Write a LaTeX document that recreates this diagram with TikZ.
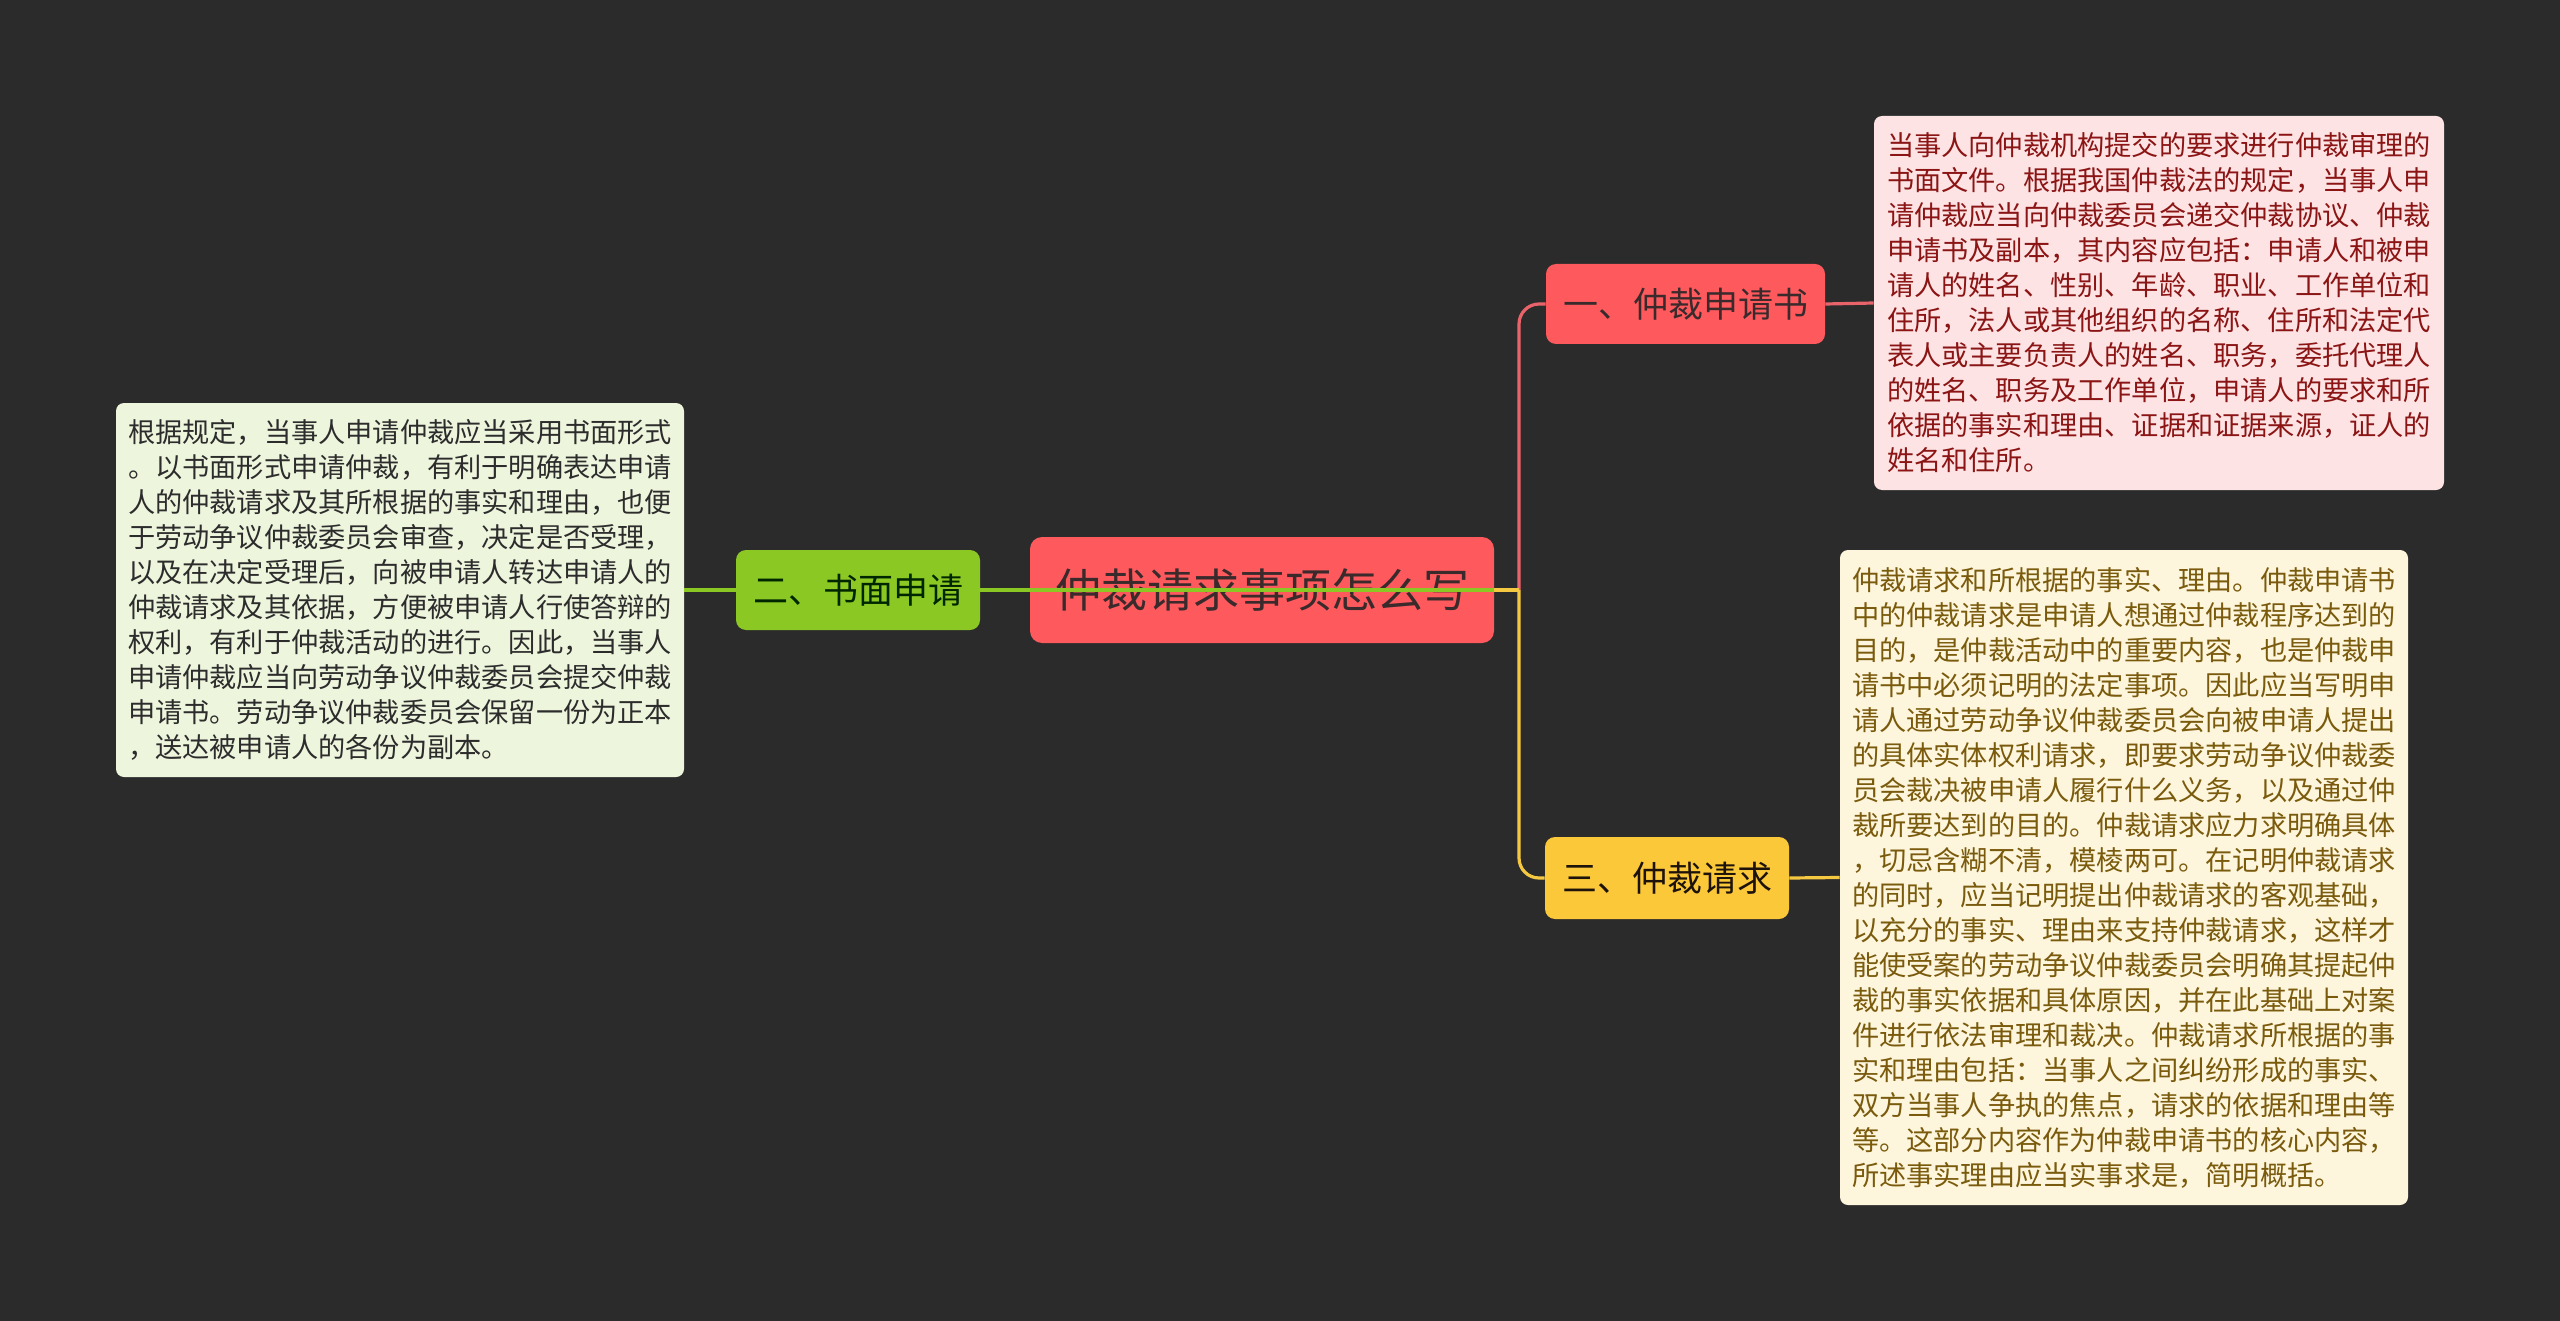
\documentclass[tikz,border=0pt]{standalone}
\usepackage{fontspec}
\newfontfamily\cjkfont{Noto Sans CJK SC}
\definecolor{bgdark}{HTML}{2B2B2B}
\definecolor{coral}{HTML}{FE5A5E}
\definecolor{leaf}{HTML}{8BC824}
\definecolor{amber}{HTML}{FBC83A}
\definecolor{pinkpale}{HTML}{FDE3E4}
\definecolor{creampale}{HTML}{FDF6DC}
\definecolor{leafpale}{HTML}{EDF5DD}
\definecolor{titleink}{HTML}{3A2A2C}
\definecolor{redink}{HTML}{8B1414}
\definecolor{brownink}{HTML}{7A5A0C}
\definecolor{greyink}{HTML}{2C2C2C}
\definecolor{redwire}{HTML}{E8636A}
\definecolor{amberwire}{HTML}{F5C842}
\newcommand{\notefont}{\cjkfont\fontsize{13.6pt}{17.5pt}\selectfont}
\tikzset{
  rootbox/.style={fill=coral, rounded corners=6pt, minimum width=232pt,
    minimum height=53pt, inner sep=0pt, text=titleink,
    font=\cjkfont\fontsize{23pt}{27pt}\selectfont},
  branchbox/.style={rounded corners=5pt, minimum height=40pt, inner sep=0pt,
    font=\cjkfont\fontsize{17.5pt}{21pt}\selectfont},
  notebox/.style={rounded corners=4pt, inner sep=0pt, minimum width=285pt,
    align=left, font=\notefont},
  wire/.style={line width=1.6pt}
}

\begin{document}
\begin{tikzpicture}[x=0.5pt,y=-0.5pt]
    \fill[bgdark] (0,0) rectangle (2560,1321);
    \useasboundingbox (0,0) rectangle (2560,1321);
    \coordinate (hub) at (1519,590);
    % notes
    \node[notebox, fill=pinkpale, text=redink, minimum height=187pt] (notepink) at (2159,303)
      {当事人向仲裁机构提交的要求进行仲裁审理的\\
       书面文件。根据我国仲裁法的规定，当事人申\\
       请仲裁应当向仲裁委员会递交仲裁协议、仲裁\\
       申请书及副本，其内容应包括：申请人和被申\\
       请人的姓名、性别、年龄、职业、工作单位和\\
       住所，法人或其他组织的名称、住所和法定代\\
       表人或主要负责人的姓名、职务，委托代理人\\
       的姓名、职务及工作单位，申请人的要求和所\\
       依据的事实和理由、证据和证据来源，证人的\\
       姓名和住所。};
    \node[notebox, fill=creampale, text=brownink, minimum width=284pt, minimum height=327.5pt] (notecream) at (2124,877.5)
      {仲裁请求和所根据的事实、理由。仲裁申请书\\
       中的仲裁请求是申请人想通过仲裁程序达到的\\
       目的，是仲裁活动中的重要内容，也是仲裁申\\
       请书中必须记明的法定事项。因此应当写明申\\
       请人通过劳动争议仲裁委员会向被申请人提出\\
       的具体实体权利请求，即要求劳动争议仲裁委\\
       员会裁决被申请人履行什么义务，以及通过仲\\
       裁所要达到的目的。仲裁请求应力求明确具体\\
       ，切忌含糊不清，模棱两可。在记明仲裁请求\\
       的同时，应当记明提出仲裁请求的客观基础，\\
       以充分的事实、理由来支持仲裁请求，这样才\\
       能使受案的劳动争议仲裁委员会明确其提起仲\\
       裁的事实依据和具体原因，并在此基础上对案\\
       件进行依法审理和裁决。仲裁请求所根据的事\\
       实和理由包括：当事人之间纠纷形成的事实、\\
       双方当事人争执的焦点，请求的依据和理由等\\
       等。这部分内容作为仲裁申请书的核心内容，\\
       所述事实理由应当实事求是，简明概括。};
    \node[notebox, fill=leafpale, text=greyink, minimum width=284pt, minimum height=187pt] (noteleaf) at (400,590)
      {根据规定，当事人申请仲裁应当采用书面形式\\
       。以书面形式申请仲裁，有利于明确表达申请\\
       人的仲裁请求及其所根据的事实和理由，也便\\
       于劳动争议仲裁委员会审查，决定是否受理，\\
       以及在决定受理后，向被申请人转达申请人的\\
       仲裁请求及其依据，方便被申请人行使答辩的\\
       权利，有利于仲裁活动的进行。因此，当事人\\
       申请仲裁应当向劳动争议仲裁委员会提交仲裁\\
       申请书。劳动争议仲裁委员会保留一份为正本\\
       ，送达被申请人的各份为副本。};
    % branches
    \node[branchbox, fill=coral, text=titleink, minimum width=139.5pt] (bookbr) at (1685.5,304) {一、仲裁申请书};
    \node[branchbox, fill=amber, text=black!85!brown, minimum width=122pt, minimum height=41pt] (claimbr) at (1667,878) {三、仲裁请求};
    \node[branchbox, fill=leaf, text=black!85!green, minimum width=122pt] (writbr) at (858,590) {二、书面申请};
    \node[rootbox] (root) at (1262,590) {仲裁请求事项怎么写};
    % wires
    \draw[wire, redwire, rounded corners=10pt] (hub) |- (bookbr.west);
    \draw[wire, amberwire, rounded corners=10pt] (hub) |- (claimbr.west);
    \draw[wire, amberwire] (root.east) -- (hub);
    \draw[wire, leaf] (writbr.east) -- (root.east);
    \draw[wire, redwire] (bookbr.east) -- (notepink.west);
    \draw[wire, amberwire] (claimbr.east) -- (notecream.west);
    \draw[wire, leaf] (noteleaf.east) -- (writbr.west);
\end{tikzpicture}
\end{document}
